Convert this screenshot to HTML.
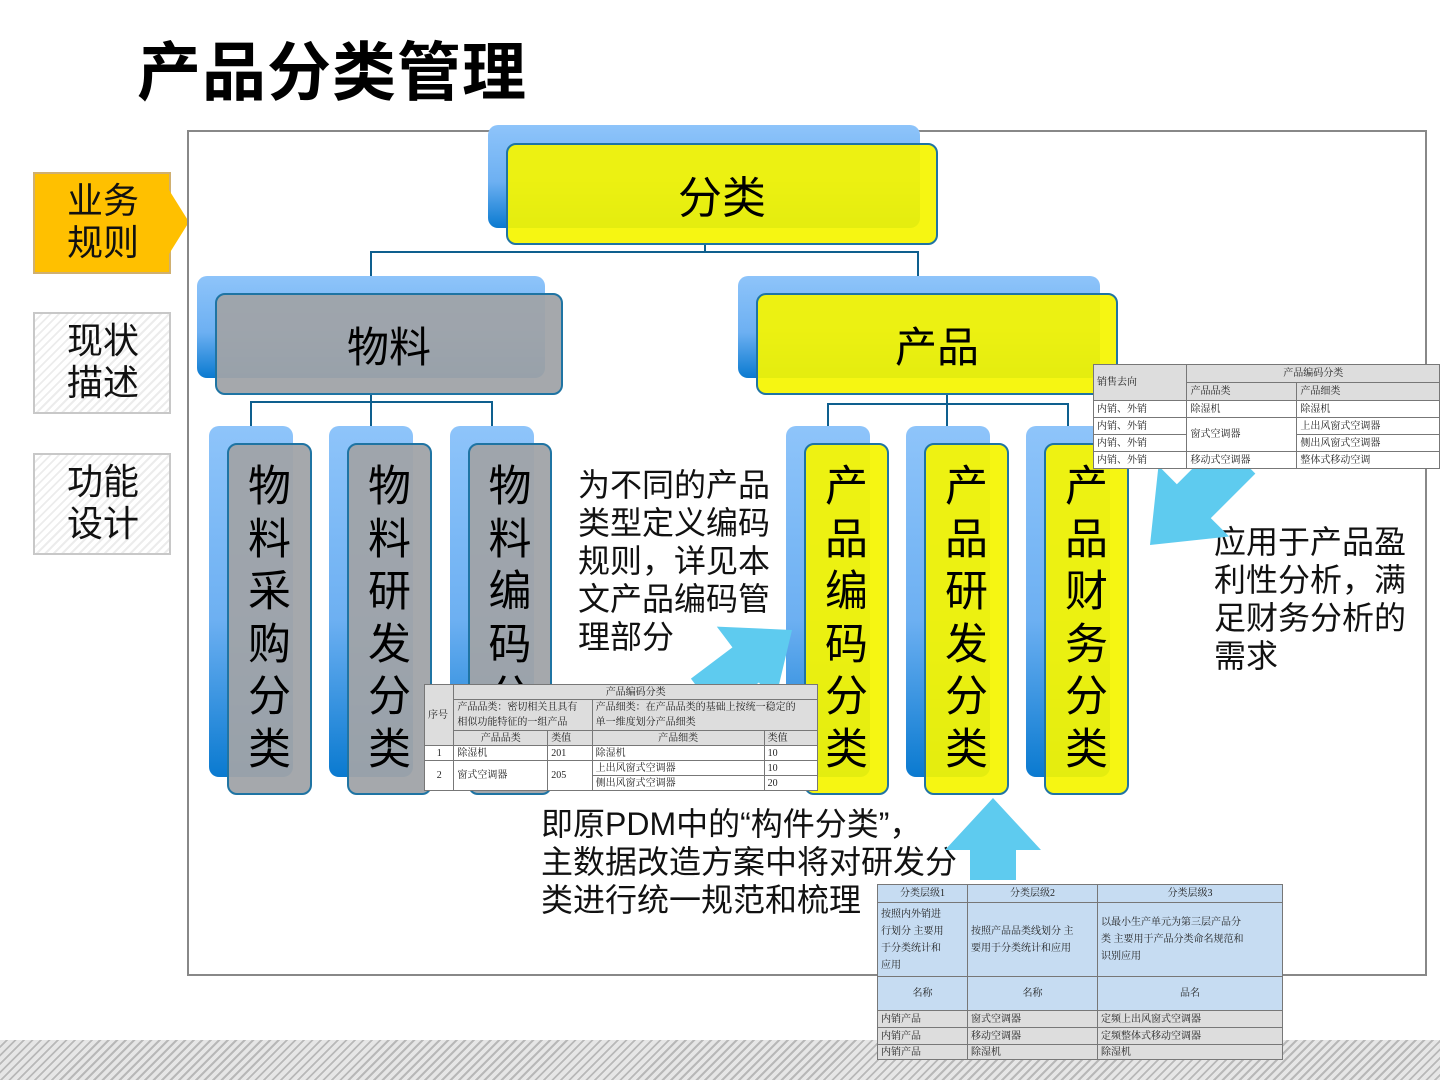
<!DOCTYPE html>
<html><head><meta charset="utf-8">
<style>
*{margin:0;padding:0;box-sizing:border-box}
body{width:1440px;height:1080px;position:relative;background:#fff;overflow:hidden;font-family:"Liberation Sans","Noto Sans CJK SC",sans-serif}
.a{position:absolute}
.back{position:absolute;border-radius:10px;background:linear-gradient(#8ec4fa 0%,#6db0f2 55%,#0a7ad0 100%)}
.front{position:absolute;border-radius:10px;border:2px solid #1f74a3;display:flex;align-items:center;justify-content:center;color:#000}
.y{background:rgba(245,245,0,.93)}
.g{background:rgba(160,163,168,.95)}
.vt{font-size:43px;line-height:52.5px;text-align:center;flex-direction:column;justify-content:flex-start;padding-top:16px;overflow:hidden}
.nav{position:absolute;left:33px;width:138px;height:102px;border:2px solid #c8c8c8;font-size:36px;line-height:42px;padding:6px 0 0 32px;color:#111;
background:repeating-linear-gradient(135deg,#fff 0 4px,#ececec 4px 6px)}
.txt{position:absolute;font-size:32px;line-height:38px;color:#111}
table{position:absolute;border-collapse:collapse;font-family:"Liberation Serif","Noto Serif CJK SC",serif;font-size:10px;color:#222;z-index:5}
td{border:1px solid #777;padding:0 3px;white-space:nowrap;height:15px;line-height:13px}
</style></head><body>
<div class="a" style="left:137px;top:22px;font-size:64px;font-weight:bold;color:#000;letter-spacing:1px">产品分类管理</div>

<div class="nav" style="top:172px;background:#ffc000;border-color:#d0b070">业务<br>规则</div>
<svg class="a" style="left:169px;top:190px" width="24" height="64"><polygon points="0,0 20,32 0,64" fill="#ffc000"/></svg>
<div class="nav" style="top:312px">现状<br>描述</div>
<div class="nav" style="top:453px">功能<br>设计</div>

<div class="a" style="left:187px;top:130px;width:1240px;height:846px;border:2px solid #888"></div>

<svg class="a" style="left:0;top:0" width="1440" height="1080">
<g stroke="#0e5f8e" stroke-width="2" fill="none">
<path d="M705 245V252M371 276V252H918V276"/>
<path d="M371 395V402M251 426V402H492V426M371 402V426"/>
<path d="M947 395V404M828 426V404H1068V426M947 404V426"/>
</g>
</svg>

<div class="back" style="left:488px;top:125px;width:432px;height:103px"></div>
<div class="front y" style="left:506px;top:143px;width:432px;height:102px;font-size:44px">分类</div>

<div class="back" style="left:197px;top:276px;width:348px;height:102px"></div>
<div class="front g" style="left:215px;top:293px;width:348px;height:102px;font-size:42px">物料</div>
<div class="back" style="left:738px;top:276px;width:362px;height:102px"></div>
<div class="front y" style="left:756px;top:293px;width:362px;height:102px;font-size:42px">产品</div>

<div class="back" style="left:209px;top:426px;width:84px;height:351px"></div>
<div class="front g vt" style="left:227px;top:443px;width:85px;height:352px">物<br>料<br>采<br>购<br>分<br>类</div>
<div class="back" style="left:329px;top:426px;width:84px;height:351px"></div>
<div class="front g vt" style="left:347px;top:443px;width:85px;height:352px">物<br>料<br>研<br>发<br>分<br>类</div>
<div class="back" style="left:450px;top:426px;width:84px;height:351px"></div>
<div class="front g vt" style="left:468px;top:443px;width:84px;height:352px">物<br>料<br>编<br>码<br>分<br>类</div>

<div class="back" style="left:786px;top:426px;width:84px;height:351px"></div>
<div class="front y vt" style="left:804px;top:443px;width:85px;height:352px">产<br>品<br>编<br>码<br>分<br>类</div>
<div class="back" style="left:906px;top:426px;width:84px;height:351px"></div>
<div class="front y vt" style="left:924px;top:443px;width:85px;height:352px">产<br>品<br>研<br>发<br>分<br>类</div>
<div class="back" style="left:1026px;top:426px;width:84px;height:351px"></div>
<div class="front y vt" style="left:1044px;top:443px;width:85px;height:352px">产<br>品<br>财<br>务<br>分<br>类</div>

<div class="txt" style="left:578px;top:466px">为不同的产品<br>类型定义编码<br>规则，详见本<br>文产品编码管<br>理部分</div>
<div class="txt" style="left:1214px;top:523px">应用于产品盈<br>利性分析，满<br>足财务分析的<br>需求</div>
<div class="txt" style="left:541px;top:805px">即原PDM中的“构件分类”，<br>主数据改造方案中将对研发分<br>类进行统一规范和梳理</div>

<svg class="a" style="left:0;top:0;z-index:4" width="1440" height="1080">
<g fill="#5ecbef">
<polygon transform="translate(1150,545) rotate(135)" points="0,0 -62,-50 -62,-24 -125,-24 -125,24 -62,24 -62,50"/>
<polygon transform="translate(792,630) rotate(-37)" points="0,0 -58,-48 -58,-22 -110,-22 -110,22 -58,22 -58,48"/>
<polygon transform="translate(993,798) rotate(-90)" points="0,0 -52,-48 -52,-23 -82,-23 -82,23 -52,23 -52,48"/>
</g>
</svg>

<table style="left:1093px;top:364px;width:347px;background:#fff">
<tr style="background:#ddd"><td rowspan="2" style="height:36px">销售去向</td><td colspan="2" style="text-align:center;height:18px">产品编码分类</td></tr>
<tr style="background:#ddd"><td style="height:18px">产品品类</td><td>产品细类</td></tr>
<tr><td style="height:17px">内销、外销</td><td>除湿机</td><td>除湿机</td></tr>
<tr><td style="height:17px">内销、外销</td><td rowspan="2">窗式空调器</td><td>上出风窗式空调器</td></tr>
<tr><td style="height:17px">内销、外销</td><td>侧出风窗式空调器</td></tr>
<tr><td style="height:17px">内销、外销</td><td>移动式空调器</td><td>整体式移动空调</td></tr>
</table>

<table style="left:424px;top:684px;width:394px;background:#fff">
<tr style="background:#ddd"><td rowspan="3">序号</td><td colspan="4" style="text-align:center">产品编码分类</td></tr>
<tr style="background:#ddd"><td colspan="2" style="line-height:15px">产品品类：密切相关且具有<br>相似功能特征的一组产品</td><td colspan="2" style="line-height:15px">产品细类：在产品品类的基础上按统一稳定的<br>单一维度划分产品细类</td></tr>
<tr style="background:#ddd"><td style="text-align:center">产品品类</td><td>类值</td><td style="text-align:center">产品细类</td><td>类值</td></tr>
<tr><td style="text-align:center">1</td><td>除湿机</td><td>201</td><td>除湿机</td><td>10</td></tr>
<tr><td rowspan="2" style="text-align:center">2</td><td rowspan="2">窗式空调器</td><td rowspan="2">205</td><td>上出风窗式空调器</td><td>10</td></tr>
<tr><td>侧出风窗式空调器</td><td>20</td></tr>
</table>

<div class="a" style="left:0;top:1040px;width:1440px;height:40px;background:repeating-linear-gradient(135deg,#e6e6e6 0 4px,#b8b8b8 4px 6px)"></div>

<table style="left:877px;top:884px;width:406px">
<tr style="background:#c6dcf2"><td style="text-align:center;width:90px;height:18px">分类层级1</td><td style="text-align:center;width:130px">分类层级2</td><td style="text-align:center">分类层级3</td></tr>
<tr style="background:#c6dcf2"><td style="height:74px;line-height:17px">按照内外销进<br>行划分 主要用<br>于分类统计和<br>应用</td><td style="line-height:17px">按照产品品类线划分 主<br>要用于分类统计和应用</td><td style="line-height:17px">以最小生产单元为第三层产品分<br>类 主要用于产品分类命名规范和<br>识别应用</td></tr>
<tr style="background:#c6dcf2"><td style="height:34px;text-align:center">名称</td><td style="text-align:center">名称</td><td style="text-align:center">品名</td></tr>
<tr style="background:#ddd"><td style="height:17px">内销产品</td><td>窗式空调器</td><td>定频上出风窗式空调器</td></tr>
<tr style="background:#ddd"><td style="height:17px">内销产品</td><td>移动空调器</td><td>定频整体式移动空调器</td></tr>
<tr style="background:#ddd"><td style="height:15px">内销产品</td><td>除湿机</td><td>除湿机</td></tr>
</table>
</body></html>
